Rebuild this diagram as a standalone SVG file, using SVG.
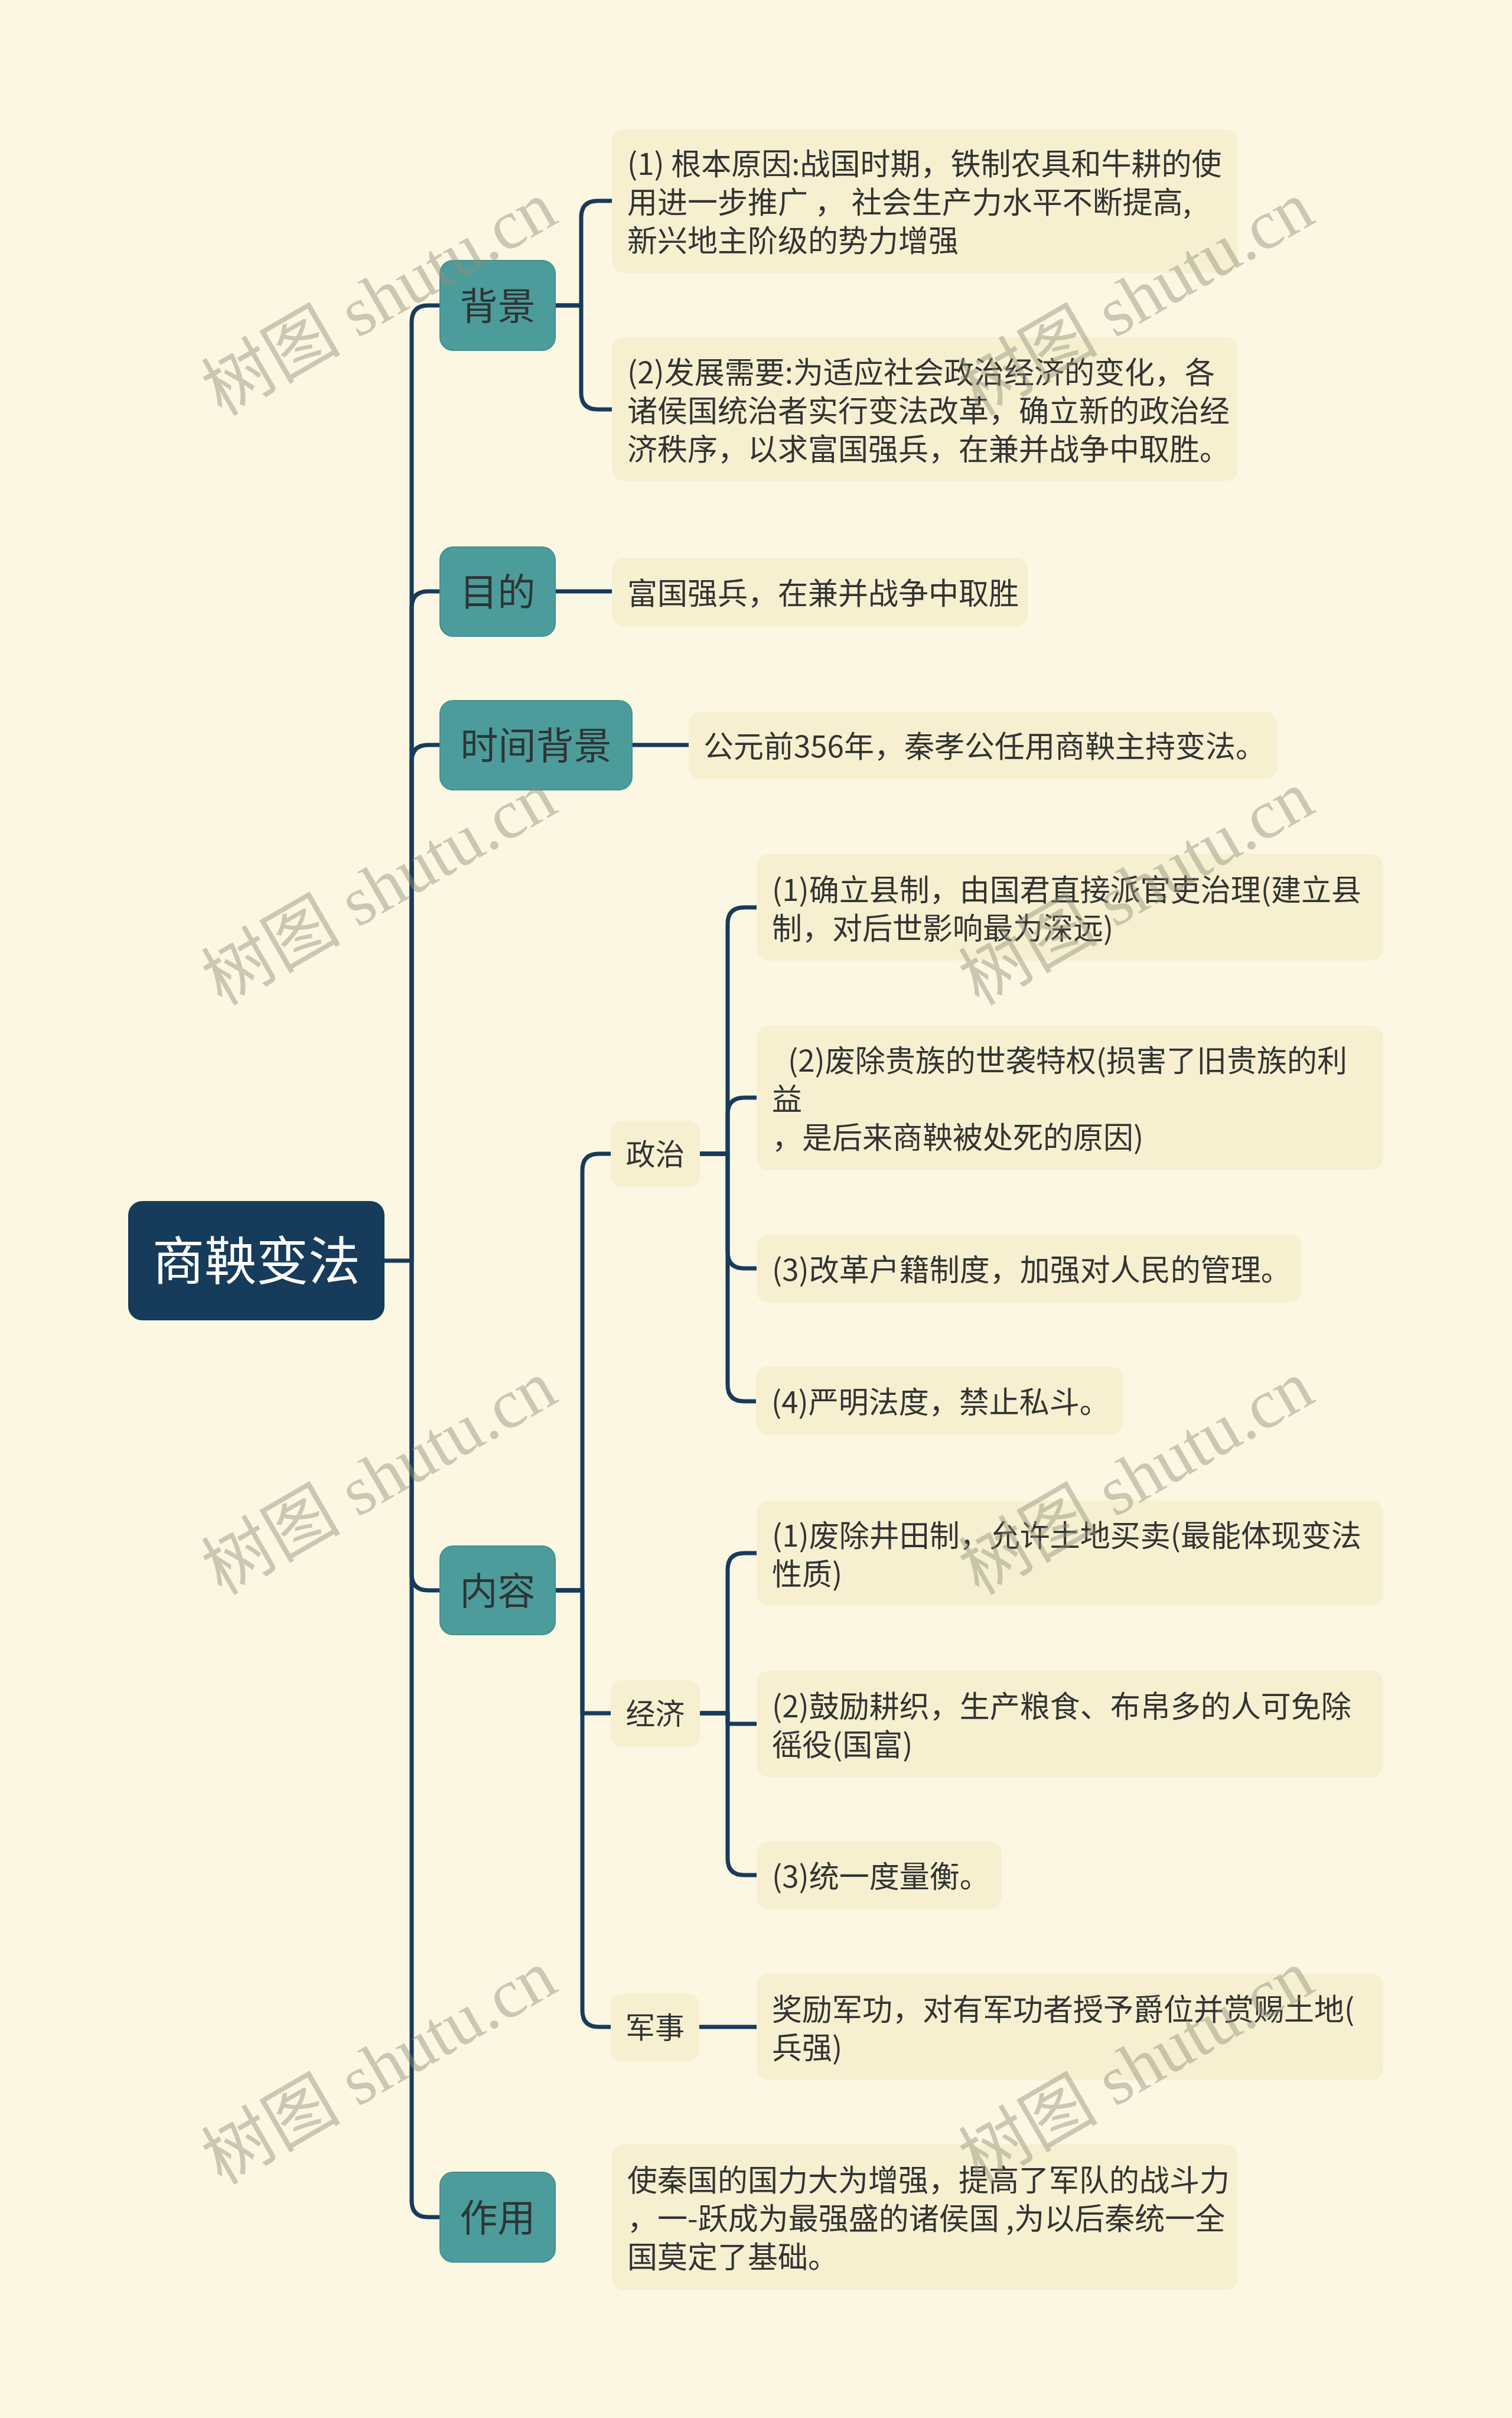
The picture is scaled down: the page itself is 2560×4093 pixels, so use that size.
<svg xmlns="http://www.w3.org/2000/svg" width="2560" height="4093" viewBox="0 0 2560 4093">
<defs>
<style>
.bg{fill:#FBF7E3}
.root{fill:#173B5A}
.t1{fill:#4C9C9C;stroke:#44908F;stroke-width:2}
.box{fill:#F6F0D1}
.lk{fill:none;stroke:#173B5A;stroke-width:7;stroke-linejoin:round}
.rt{font-family:"Noto Sans CJK SC","Noto Sans",sans-serif;font-size:88px;fill:#FFFFFF;text-anchor:middle}
.tt{font-family:"Noto Sans CJK SC","Noto Sans",sans-serif;font-size:64px;fill:#2F3535;text-anchor:middle}
.st{font-family:"Noto Sans CJK SC","Noto Sans",sans-serif;font-size:50px;fill:#333333;text-anchor:middle}
.tx{font-family:"Noto Sans CJK SC","Noto Sans",sans-serif;font-size:51px;fill:#333333}
.wm{font-family:"Liberation Serif","Noto Sans CJK SC",serif;font-size:118px;fill:#8F8E78;fill-opacity:0.45;text-anchor:middle}
</style>
</defs>
<rect class="bg" x="0" y="0" width="2560" height="4093"/>

<g id="connectors">
<path class="lk" d="M650,2134 H697"/>
<path class="lk" d="M697,2134 V545 Q697,517 725,517 H745"/>
<path class="lk" d="M697,2134 V1029 Q697,1001 725,1001 H745"/>
<path class="lk" d="M697,2134 V1289 Q697,1261 725,1261 H745"/>
<path class="lk" d="M697,2134 V2664 Q697,2692 725,2692 H745"/>
<path class="lk" d="M697,2134 V3725 Q697,3753 725,3753 H745"/>
<path class="lk" d="M940,517 H984 V368 Q984,340 1012,340 H1036"/>
<path class="lk" d="M940,517 H984 V665 Q984,693 1012,693 H1036"/>
<path class="lk" d="M940,1001 H1036"/>
<path class="lk" d="M1070,1261 H1166"/>
<path class="lk" d="M940,2692 H986 V1981 Q986,1953 1014,1953 H1034"/>
<path class="lk" d="M940,2692 H986 V2900 H1034"/>
<path class="lk" d="M940,2692 H986 V3403 Q986,3431 1014,3431 H1034"/>
<path class="lk" d="M1185,1953 H1232 V1564 Q1232,1536 1260,1536 H1281"/>
<path class="lk" d="M1185,1953 H1232 V1886 Q1232,1858 1260,1858 H1281"/>
<path class="lk" d="M1185,1953 H1232 V2119 Q1232,2147 1260,2147 H1281"/>
<path class="lk" d="M1185,1953 H1232 V2344 Q1232,2372 1260,2372 H1281"/>
<path class="lk" d="M1185,2900 H1232 V2657 Q1232,2629 1260,2629 H1281"/>
<path class="lk" d="M1185,2900 H1232 V2918 H1281"/>
<path class="lk" d="M1185,2900 H1232 V3146 Q1232,3174 1260,3174 H1281"/>
<path class="lk" d="M1184,3431 H1281"/>
</g>

<g id="root">
<rect class="root" x="217" y="2033" width="434" height="202" rx="24"/>
<text class="rt" x="434" y="2166">商鞅变法</text>
</g>

<g id="n-beijing">
<rect class="t1" x="745" y="441" width="195" height="152" rx="22"/>
<text class="tt" x="842.5" y="541">背景</text>
</g>
<g id="n-mudi">
<rect class="t1" x="745" y="926" width="195" height="151" rx="22"/>
<text class="tt" x="842.5" y="1025">目的</text>
</g>
<g id="n-shijian">
<rect class="t1" x="745" y="1186" width="325" height="151" rx="22"/>
<text class="tt" x="907.5" y="1285">时间背景</text>
</g>
<g id="n-neirong">
<rect class="t1" x="745" y="2617" width="195" height="150" rx="22"/>
<text class="tt" x="842.5" y="2716">内容</text>
</g>
<g id="n-zuoyong">
<rect class="t1" x="745" y="3677" width="195" height="152" rx="22"/>
<text class="tt" x="842.5" y="3777">作用</text>
</g>

<g id="n-zhengzhi">
<rect class="box" x="1034" y="1897" width="151" height="113" rx="20"/>
<text class="st" x="1109.5" y="1972">政治</text>
</g>
<g id="n-jingji">
<rect class="box" x="1034" y="2844" width="151" height="114" rx="20"/>
<text class="st" x="1109.5" y="2919">经济</text>
</g>
<g id="n-junshi">
<rect class="box" x="1034" y="3374" width="150" height="115" rx="20"/>
<text class="st" x="1109" y="3450">军事</text>
</g>

<g id="b1">
<rect class="box" x="1036" y="219" width="1060" height="243" rx="20"/>
<text class="tx" x="1062" y="296">(1) 根本原因:战国时期，铁制农具和牛耕的使</text>
<text class="tx" x="1062" y="361">用进一步推广 ， 社会生产力水平不断提高,</text>
<text class="tx" x="1062" y="426">新兴地主阶级的势力增强</text>
</g>
<g id="b2">
<rect class="box" x="1036" y="571" width="1060" height="243" rx="20"/>
<text class="tx" x="1062" y="649">(2)发展需要:为适应社会政治经济的变化，各</text>
<text class="tx" x="1062" y="714">诸侯国统治者实行变法改革，确立新的政治经</text>
<text class="tx" x="1062" y="779">济秩序，以求富国强兵，在兼并战争中取胜。</text>
</g>
<g id="m1">
<rect class="box" x="1036" y="945" width="705" height="115" rx="20"/>
<text class="tx" x="1062" y="1023">富国强兵，在兼并战争中取胜</text>
</g>
<g id="t1">
<rect class="box" x="1166" y="1205" width="996" height="114" rx="20"/>
<text class="tx" x="1191" y="1282">公元前356年，秦孝公任用商鞅主持变法。</text>
</g>
<g id="z1">
<rect class="box" x="1281" y="1446" width="1061" height="180" rx="20"/>
<text class="tx" x="1307" y="1525">(1)确立县制，由国君直接派官吏治理(建立县</text>
<text class="tx" x="1307" y="1590">制，对后世影响最为深远)</text>
</g>
<g id="z2">
<rect class="box" x="1281" y="1736" width="1061" height="244" rx="20"/>
<text class="tx" x="1334" y="1814">(2)废除贵族的世袭特权(损害了旧贵族的利</text>
<text class="tx" x="1307" y="1879">益</text>
<text class="tx" x="1307" y="1944">，是后来商鞅被处死的原因)</text>
</g>
<g id="z3">
<rect class="box" x="1281" y="2090" width="922" height="115" rx="20"/>
<text class="tx" x="1307" y="2168">(3)改革户籍制度，加强对人民的管理。</text>
</g>
<g id="z4">
<rect class="box" x="1280" y="2313" width="621" height="116" rx="20"/>
<text class="tx" x="1306" y="2392">(4)严明法度，禁止私斗。</text>
</g>
<g id="j1">
<rect class="box" x="1281" y="2540" width="1061" height="178" rx="20"/>
<text class="tx" x="1307" y="2618">(1)废除井田制，允许土地买卖(最能体现变法</text>
<text class="tx" x="1307" y="2683">性质)</text>
</g>
<g id="j2">
<rect class="box" x="1281" y="2828" width="1061" height="180" rx="20"/>
<text class="tx" x="1307" y="2907">(2)鼓励耕织，生产粮食、布帛多的人可免除</text>
<text class="tx" x="1307" y="2972">徭役(国富)</text>
</g>
<g id="j3">
<rect class="box" x="1281" y="3117" width="415" height="114" rx="20"/>
<text class="tx" x="1307" y="3195">(3)统一度量衡。</text>
</g>
<g id="js1">
<rect class="box" x="1281" y="3341" width="1061" height="180" rx="20"/>
<text class="tx" x="1307" y="3420">奖励军功，对有军功者授予爵位并赏赐土地(</text>
<text class="tx" x="1307" y="3485">兵强)</text>
</g>
<g id="zy1">
<rect class="box" x="1036" y="3630" width="1060" height="246" rx="20"/>
<text class="tx" x="1062" y="3709">使秦国的国力大为增强，提高了军队的战斗力</text>
<text class="tx" x="1062" y="3774">，一-跃成为最强盛的诸侯国 ,为以后秦统一全</text>
<text class="tx" x="1062" y="3839">国莫定了基础。</text>
</g>

<g id="watermark">
<text class="wm" transform="translate(662,540) rotate(-30)">树图 shutu.cn</text>
<text class="wm" transform="translate(1944,540) rotate(-30)">树图 shutu.cn</text>
<text class="wm" transform="translate(662,1538) rotate(-30)">树图 shutu.cn</text>
<text class="wm" transform="translate(1944,1538) rotate(-30)">树图 shutu.cn</text>
<text class="wm" transform="translate(662,2536) rotate(-30)">树图 shutu.cn</text>
<text class="wm" transform="translate(1944,2536) rotate(-30)">树图 shutu.cn</text>
<text class="wm" transform="translate(662,3534) rotate(-30)">树图 shutu.cn</text>
<text class="wm" transform="translate(1944,3534) rotate(-30)">树图 shutu.cn</text>
</g>
</svg>
